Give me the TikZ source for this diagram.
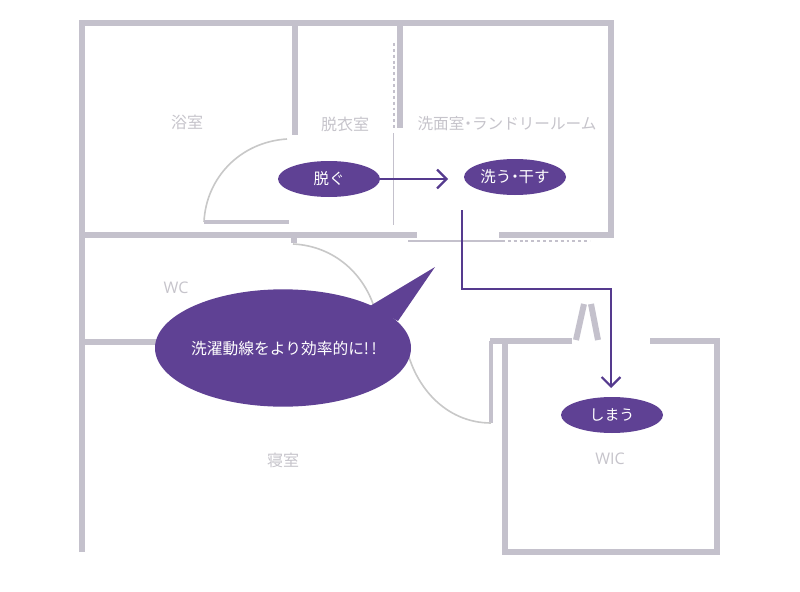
\documentclass[tikz,border=0pt]{standalone}
\usepackage{fontspec}
\setmainfont{Noto Sans CJK JP}
\newfontfamily\latinlab{Open Sans}
\usetikzlibrary{arrows.meta,shapes.geometric}
\definecolor{wallc}{HTML}{C4C1CC}
\definecolor{labelc}{HTML}{C6C4CB}
\definecolor{doorc}{HTML}{C8C8C8}
\definecolor{purp}{HTML}{5F4194}
\definecolor{flowc}{HTML}{553A8E}
\tikzset{
  x=0.75pt,y=-0.75pt,
  wall/.style={draw=wallc,line width=4.5pt,miter limit=10},
  wallthin/.style={draw=wallc,line width=3pt},
  thinline/.style={draw=wallc,line width=1pt},
  dotline/.style={draw=wallc,line width=1pt,dash pattern=on 2.2pt off 2.2pt},
  doorarc/.style={draw=doorc,line width=1.2pt},
  roomlabel/.style={text=labelc,font=\fontsize{12}{14}\selectfont,inner sep=0pt},
  actionnode/.style={ellipse,fill=purp,text=white,minimum width=76.5pt,minimum height=27pt,inner sep=0pt,font=\fontsize{11.6}{13}\selectfont},
  flow/.style={draw=flowc,line width=1.7pt,-{Straight Barb[length=7pt,width=14pt,line width=1.7pt]}},
}
\begin{document}
\begin{tikzpicture}
\useasboundingbox[fill=white] (0,0) rectangle (800,592);
% main outline and partitions
\draw[wall] (82,552) -- (82,23) -- (611,23) -- (611,235) -- (499,235);
\draw[wall] (82,235) -- (417,235);
\draw[wall] (294.5,23) -- (294.5,135);
\draw[wall] (399.5,23) -- (399.5,128);
\draw[wall] (82,342) -- (170,342);
\draw[wall] (294,238) -- (294,243);
% WIC
\draw[wall] (572,341) -- (490,341);
\draw[wallthin] (491,341) -- (491,423);
\draw[wall] (505,341) -- (505,551.5) -- (717,551.5) -- (717,341) -- (650,341);
\draw[wall] (576,340) -- (584,304);
\draw[wall] (598,340) -- (591,304);
% thin and dashed fittings
\draw[dotline] (394,43) -- (394,128);
\draw[thinline] (393.5,133) -- (393.5,225);
\draw[thinline] (408,241) -- (502,241);
\draw[dotline] (502,241) -- (590,241);
% doors
\draw[doorarc] (287,139) .. controls (240,142) and (206,178) .. (204,222);
\draw[wallthin] (204,222) -- (289,222);
\draw[doorarc] (293,244) .. controls (335,246) and (365,275) .. (375,310);
\draw[doorarc] (405,340) .. controls (412,385) and (445,423) .. (491,423);
% room labels
\node[roomlabel] (yokushitsu) at (187,122) {浴室};
\node[roomlabel] (datsuishitsu) at (345,124) {脱衣室};
\node[roomlabel,font=\fontsize{11.7}{14}\selectfont] (senmen) at (507,124) {洗面室\hspace{-3pt}・\hspace{-3pt}ランドリールーム};
\node[roomlabel] (wc) at (176,288) {\latinlab WC};
\node[roomlabel] (shinshitsu) at (283,460) {寝室};
\node[roomlabel] (wic) at (610,459) {\latinlab WIC};
% speech bubble
\fill[purp] (370,306) -- (435,267) -- (398,321) -- cycle;
\node[ellipse,fill=purp,minimum width=192pt,minimum height=88pt,inner sep=0pt] (bubble) at (283,348) {};
\node[text=white,font=\fontsize{11.8}{13}\selectfont,inner sep=0pt] (bubbletext) at (284,349) {洗濯動線をより効率的に!\,!};
% actions
\node[actionnode] (nugu) at (329,179) {脱ぐ};
\node[actionnode] (arau) at (515,177) {洗う\hspace{-3pt}・\hspace{-3pt}干す};
\node[actionnode,font=\fontsize{11.2}{13}\selectfont] (shimau) at (612,415) {しまう};
% flows
\coordinate (nuguend) at (448,179);
\coordinate (arauout) at (462,210);
\coordinate (bendA) at (462,289);
\coordinate (bendB) at (611,289);
\coordinate (shimauend) at (611,388);
\draw[flow] (nugu.east) -- (nuguend);
\draw[flow] (arauout) -- (bendA) -- (bendB) -- (shimauend);
\end{tikzpicture}
\end{document}
